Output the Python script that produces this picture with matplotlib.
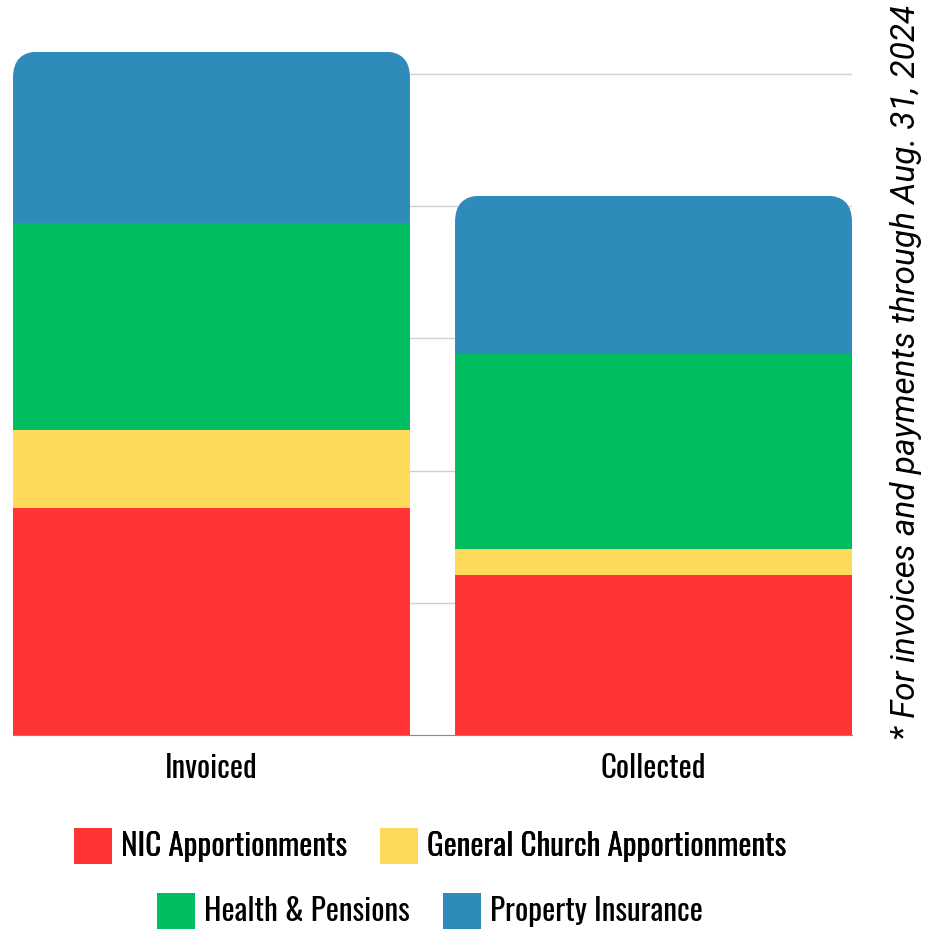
import matplotlib
matplotlib.use("Agg")
import matplotlib.pyplot as plt
from matplotlib.patches import FancyBboxPatch, Patch

# === Data (units = one gridline step) ===
categories = ["Invoiced", "Collected"]
series_names = ["NIC Apportionments", "General Church Apportionments",
                "Health & Pensions", "Property Insurance"]
nic = [1.72, 1.21]
general_church = [0.59, 0.20]
health_pensions = [1.56, 1.47]
property_ins = [1.30, 1.20]
colors = ["#FF3434", "#FDDA5A", "#00BE5F", "#2E8BBA"]
footnote = "* For invoices and payments through Aug. 31, 2024"

cond = ["Oswald", "Roboto Condensed", "Barlow Condensed", "Roboto"]

fig = plt.figure(figsize=(9.33, 9.43), dpi=100)
ax = fig.add_axes([13 / 933, 1 - 735 / 943, (852 - 13) / 933, 735 / 943])
renderer = fig.canvas.get_renderer()


def fit_size(text, target_px, start=20):
    # pick a font size so the text is about target_px wide
    t = fig.text(0, 0, text, family=cond, fontsize=start)
    w = t.get_window_extent(renderer).width
    t.remove()
    return start * target_px / w


width = 0.898
x = range(len(categories))
ax.set_xlim(-width / 2, 1 + width / 2)
ax.set_ylim(0, 735 / 132.2)

# pixel radius -> data radii
p0, p1 = ax.transData.transform([(0, 0), (1, 1)])
radius_px = 26
rx = radius_px / (p1[0] - p0[0])
ry = radius_px / (p1[1] - p0[1])

stack = [nic, general_church, health_pensions, property_ins]
for i in x:
    total = sum(s[i] for s in stack)
    clip = FancyBboxPatch((i - width / 2, -1), width, total + 1,
                          boxstyle=f"round,pad=0,rounding_size={rx}",
                          mutation_aspect=ry / rx)
    clip.set_transform(ax.transData)
    bottom = 0
    for s, c in zip(stack, colors):
        bar = ax.bar(i, s[i], width=width, bottom=bottom, color=c,
                     linewidth=0, zorder=3)[0]
        bar.set_clip_path(clip)
        bottom += s[i]

# === axes styling ===
ax.set_yticks([1, 2, 3, 4, 5])
ax.set_yticklabels([])
ax.tick_params(axis="y", length=0)
ax.yaxis.grid(True, color="#d0d0d0", linewidth=1)
ax.set_axisbelow(True)
for sp in ["top", "right", "left"]:
    ax.spines[sp].set_visible(False)
ax.spines["bottom"].set_color("#888888")
ax.spines["bottom"].set_zorder(4)
tick_size = fit_size("Invoiced", 93)
ax.set_xticks(list(x))
ax.set_xticklabels(categories, fontsize=tick_size, family=cond)
ax.tick_params(axis="x", length=0, pad=13)

# footnote on the right
fig.text(906 / 933, 1 - 372 / 943, footnote, rotation=90, style="italic",
         family="Roboto", fontsize=24, ha="center", va="center")

# === legend: two centred rows ===
leg_size = fit_size("NIC Apportionments", 227)
handles = [Patch(facecolor=c, edgecolor="none") for c in colors]
leg_kw = dict(ncol=2, frameon=False, prop={"family": cond, "size": leg_size},
              handlelength=1.22, handleheight=1.45, handletextpad=0.3,
              columnspacing=1.05, loc="center")
leg1 = fig.legend(handles[:2], series_names[:2],
                  bbox_to_anchor=(430 / 933, 1 - 846 / 943), **leg_kw)
fig.add_artist(leg1)
fig.legend(handles[2:], series_names[2:],
           bbox_to_anchor=(430 / 933, 1 - 911 / 943), **leg_kw)

fig.savefig("out.png", dpi=100)
